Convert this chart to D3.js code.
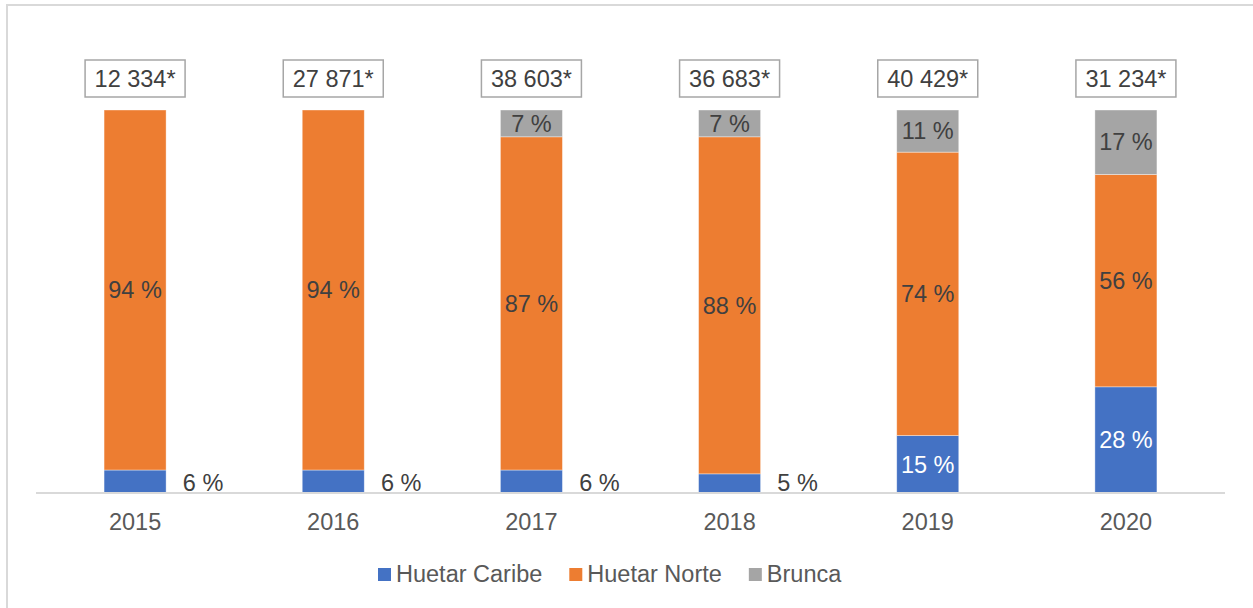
<!DOCTYPE html>
<html>
<head>
<meta charset="utf-8">
<script src="https://cdn.jsdelivr.net/npm/d3@7"></script>
<style>
  body { margin: 0; background: #fff; }
  svg text { font-family: "Liberation Sans", Arial, sans-serif; }
</style>
</head>
<body>
<div id="chart"></div>
<script>
var years   = ["2015", "2016", "2017", "2018", "2019", "2020"];
var caribe  = [6, 6, 6, 5, 15, 28];
var norte   = [94, 94, 87, 88, 74, 56];
var brunca  = [0, 0, 7, 7, 11, 17];
var totals  = ["12 334*", "27 871*", "38 603*", "36 683*", "40 429*", "31 234*"];
var seriesNames  = ["Huetar Caribe", "Huetar Norte", "Brunca"];
var seriesColors = ["#4472c4", "#ed7d31", "#a5a5a5"];

var W = 1253, H = 608;
var fs = 23.5;

var svg = d3.select("#chart")
  .append("svg")
  .attr("width", W)
  .attr("height", H);

// outer frame (right/bottom edges fall outside the picture)
svg.append("rect")
  .attr("x", 7).attr("y", 5)
  .attr("width", W + 10).attr("height", H + 10)
  .attr("fill", "none")
  .attr("stroke", "#d9d9d9")
  .attr("stroke-width", 2);

var rows = years.map(function(y, i) {
  return { year: y, caribe: caribe[i], norte: norte[i], brunca: brunca[i], total: totals[i] };
});
var keys = ["caribe", "norte", "brunca"];

var stack = d3.stack().keys(keys).offset(d3.stackOffsetExpand);
var layers = stack(rows);

var x = d3.scaleBand()
  .domain(years)
  .range([36, 1225])
  .paddingInner(0.687)
  .paddingOuter(0.3435);

var y = d3.scaleLinear()
  .domain([0, 1])
  .range([493, 110]);

/* bars */
var g = svg.append("g");
layers.forEach(function(layer, li) {
  g.selectAll(".seg" + li)
    .data(layer)
    .enter()
    .append("rect")
    .attr("x", function(d) { return x(d.data.year); })
    .attr("width", x.bandwidth())
    .attr("y", function(d) { return y(d[1]); })
    .attr("height", function(d) { return y(d[0]) - y(d[1]); })
    .attr("fill", seriesColors[li])
    .attr("stroke", "#fff")
    .attr("stroke-opacity", 0.5)
    .attr("stroke-width", 0.75);
});

/* axis */
var xAxis = d3.axisBottom(x).tickSize(0).tickPadding(20);
var ax = svg.append("g")
  .attr("transform", "translate(0," + 493 + ")")
  .call(xAxis);
ax.select(".domain").attr("stroke", "#d9d9d9").attr("stroke-width", 2)
  .attr("d", "M36,0H1225");
ax.selectAll("text")
  .attr("font-size", fs)
  .attr("fill", "#595959")
  .attr("font-family", "Liberation Sans, Arial, sans-serif");

/* data labels */
layers.forEach(function(layer, li) {
  var key = keys[li];
  layer.forEach(function(d) {
    var v = d.data[key];
    if (!v) return;
    var cx = x(d.data.year) + x.bandwidth() / 2;
    var cy = (y(d[0]) + y(d[1])) / 2;
    var fill = "#404040";
    if (key === "caribe") {
      if (v < 10) {
        cx = cx + 68;
        cy = y(0) - 10;
      } else {
        fill = "#fff";
      }
    }
    svg.append("text")
      .attr("x", cx)
      .attr("y", cy)
      .attr("dy", "0.35em")
      .attr("text-anchor", "middle")
      .attr("font-size", fs)
      .attr("fill", fill)
      .text(v + " %");
  });
});

/* totals in boxes */
rows.forEach(function(r) {
  var cx = x(r.year) + x.bandwidth() / 2;
  svg.append("rect")
    .attr("x", cx - 50).attr("y", 60)
    .attr("width", 100).attr("height", 37)
    .attr("fill", "#fff")
    .attr("stroke", "#a6a6a6")
    .attr("stroke-width", 1.5);
  svg.append("text")
    .attr("x", cx).attr("y", 78.5)
    .attr("dy", "0.35em")
    .attr("text-anchor", "middle")
    .attr("font-size", fs)
    .attr("fill", "#404040")
    .text(r.total);
});

/* legend */
var lx = 378;
seriesNames.forEach(function(name, i) {
  svg.append("rect")
    .attr("x", lx).attr("y", 568)
    .attr("width", 13).attr("height", 13)
    .attr("fill", seriesColors[i]);
  var t = svg.append("text")
    .attr("x", lx + 18).attr("y", 582)
    .attr("font-size", fs)
    .attr("fill", "#595959")
    .text(name);
  lx = lx + 18 + t.node().getComputedTextLength() + 27;
});
</script>
</body>
</html>
